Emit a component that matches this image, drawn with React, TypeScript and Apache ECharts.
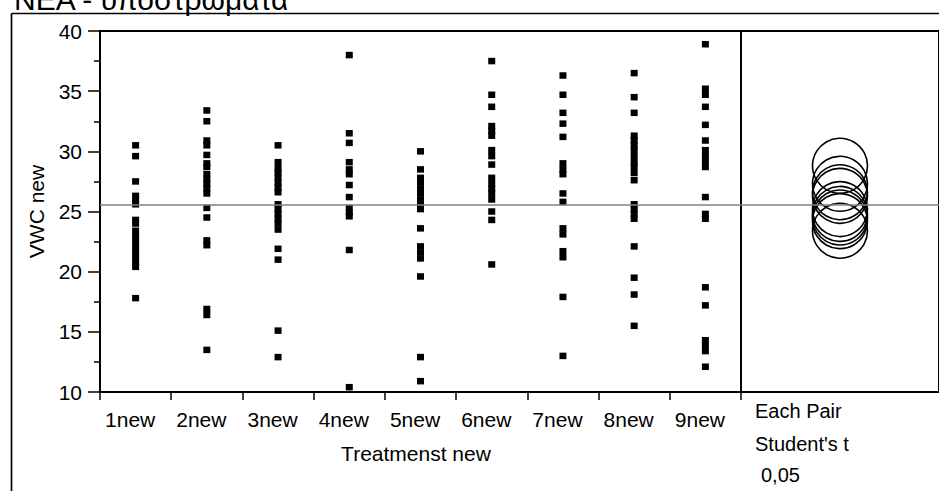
import React, { useEffect, useRef } from "react";
import * as echarts from "echarts";

const categories = ["1new", "2new", "3new", "4new", "5new", "6new", "7new", "8new", "9new"];

const g1 = [30.5, 29.6, 27.5, 26.3, 26.0, 25.6, 24.3, 24.0, 23.4, 22.9, 22.5, 22.1, 21.7, 21.2, 20.8, 20.4, 17.8];
const g2 = [33.4, 32.5, 30.9, 30.5, 29.7, 29.0, 28.7, 28.1, 27.7, 27.3, 26.9, 26.5, 25.3, 24.5, 22.6, 22.2, 16.9, 16.4, 13.5];
const g3 = [30.5, 29.1, 28.6, 28.2, 27.8, 27.4, 27.0, 26.6, 25.6, 25.2, 24.8, 24.4, 24.0, 23.5, 21.9, 21.0, 15.1, 12.9];
const g4 = [38.0, 31.5, 30.7, 29.1, 28.5, 28.1, 27.2, 26.2, 25.3, 24.9, 24.6, 21.8, 10.4];
const g5 = [30.0, 28.5, 27.8, 27.4, 26.9, 26.5, 26.0, 25.6, 25.2, 23.6, 22.1, 21.6, 21.1, 19.6, 12.9, 10.9];
const g6 = [37.5, 34.7, 33.7, 32.1, 31.7, 31.3, 30.1, 29.6, 28.9, 27.8, 27.3, 26.9, 26.5, 26.0, 25.0, 24.3, 20.6];
const g7 = [36.3, 34.7, 33.2, 32.3, 31.2, 29.0, 28.5, 28.1, 26.5, 25.8, 23.6, 23.1, 21.7, 21.2, 17.9, 13.0];
const g8 = [36.5, 34.5, 33.2, 31.3, 30.9, 30.5, 30.1, 29.6, 29.1, 28.7, 28.2, 27.6, 25.6, 25.2, 24.8, 24.4, 22.1, 19.5, 18.1, 15.5];
const g9 = [38.9, 35.2, 34.7, 33.7, 32.2, 30.9, 30.1, 29.6, 29.2, 28.7, 26.2, 24.8, 24.4, 18.7, 17.2, 14.3, 13.8, 13.4, 12.1];

const groups = [g1, g2, g3, g4, g5, g6, g7, g8, g9];

const grandMean = 25.6;
const circleMeans = [23.4, 24.2, 24.5, 24.8, 25.2, 26.3, 26.6, 27.3, 28.8];

const yTicks = [10, 15, 20, 25, 30, 35, 40];
const titleText = "NEA - υποστρώματα";
const xName = "Treatmenst new";
const yName = "VWC new";
const panelTexts = ["Each Pair", "Student's t", "0,05"];

const FONT = "'Liberation Sans', Arial, sans-serif";

export default function App() {
  const ref = useRef<HTMLDivElement>(null);

  useEffect(() => {
    document.body.style.margin = "0";
    if (!ref.current) return;
    const chart = echarts.init(ref.current, null, { renderer: "svg" });

    const points: number[][] = [];
    groups.forEach((g, i) => g.forEach((v) => points.push([i, v])));

    const meanLine = {
      silent: true,
      symbol: ["none", "none"],
      label: { show: false },
      lineStyle: { color: "#808080", width: 1.6, type: "solid" },
      data: [{ yAxis: grandMean }],
    };

    const option = {
      animation: false,
      backgroundColor: "#fff",
      textStyle: { fontFamily: FONT },
      grid: [
        { left: 100, top: 31, width: 641, height: 361, show: true, borderColor: "#000", borderWidth: 2, backgroundColor: "transparent" },
        { left: 741, top: 31, right: -4, height: 361, show: true, borderColor: "#000", borderWidth: 2, backgroundColor: "transparent" },
      ],
      xAxis: [
        {
          type: "category",
          gridIndex: 0,
          data: categories,
          boundaryGap: true,
          axisLine: { show: true, lineStyle: { color: "#000", width: 2 } },
          axisTick: { show: true, length: 8, lineStyle: { color: "#000", width: 1.5 } },
          axisLabel: { color: "#000", fontSize: 21, margin: 17, fontFamily: FONT, padding: [0, 11, 0, 0] },
          splitLine: { show: false },
          name: xName,
          nameLocation: "middle",
          nameGap: 51,
          nameTextStyle: { color: "#000", fontSize: 21, fontFamily: FONT, padding: [0, 9, 0, 0] },
        },
        {
          type: "value",
          gridIndex: 1,
          min: 0,
          max: 1,
          axisLine: { show: true, lineStyle: { color: "#000", width: 2 } },
          axisTick: { show: false },
          axisLabel: { show: false },
          splitLine: { show: false },
        },
      ],
      yAxis: [
        {
          type: "value",
          gridIndex: 0,
          min: yTicks[0],
          max: yTicks[yTicks.length - 1],
          interval: 5,
          axisLine: { show: true, lineStyle: { color: "#000", width: 2 } },
          axisTick: { show: true, length: 12, lineStyle: { color: "#000", width: 1.5 } },
          minorTick: { show: true, splitNumber: 2, length: 6, lineStyle: { color: "#000", width: 1.5 } },
          axisLabel: { color: "#000", fontSize: 21, margin: 18, fontFamily: FONT },
          splitLine: { show: false },
          minorSplitLine: { show: false },
          name: yName,
          nameLocation: "middle",
          nameGap: 53,
          nameRotate: 90,
          nameTextStyle: { color: "#000", fontSize: 21, fontFamily: FONT },
        },
        {
          type: "value",
          gridIndex: 1,
          min: yTicks[0],
          max: yTicks[yTicks.length - 1],
          interval: 5,
          show: false,
          splitLine: { show: false },
        },
      ],
      series: [
        {
          type: "scatter",
          xAxisIndex: 0,
          yAxisIndex: 0,
          symbol: "rect",
          symbolSize: [7, 6.5],
          itemStyle: { color: "#000", opacity: 1 },
          data: points,
          markLine: meanLine,
          z: 2,
        },
        {
          type: "scatter",
          xAxisIndex: 1,
          yAxisIndex: 1,
          symbol: "circle",
          symbolSize: 55,
          itemStyle: { color: "rgba(0,0,0,0)", borderColor: "#000", borderWidth: 1.6, opacity: 1 },
          data: circleMeans.map((m) => [0.5, m]),
          markLine: meanLine,
          z: 2,
        },
      ],
      graphic: [
        { type: "line", shape: { x1: 11.5, y1: 13.5, x2: 11.5, y2: 491 }, style: { stroke: "#000", lineWidth: 1.7 }, z: 10 },
        { type: "line", shape: { x1: 11.5, y1: 13.5, x2: 939, y2: 13.5 }, style: { stroke: "#000", lineWidth: 1.7 }, z: 10 },
        {
          type: "text",
          x: 14,
          y: -1,
          style: { text: titleText, fontSize: 30, fontFamily: FONT, fill: "#000", textVerticalAlign: "middle", textAlign: "left" },
          z: 10,
        },
        ...panelTexts.map((t, i) => ({
          type: "text",
          x: i === 2 ? 761 : 755,
          y: [411, 444, 475][i],
          style: { text: t, fontSize: 20, fontFamily: FONT, fill: "#000", textVerticalAlign: "middle", textAlign: "left" },
          z: 10,
        })),
      ],
    };

    chart.setOption(option as any);
    return () => chart.dispose();
  }, []);

  return <div ref={ref} style={{ width: 939, height: 491 }} />;
}
